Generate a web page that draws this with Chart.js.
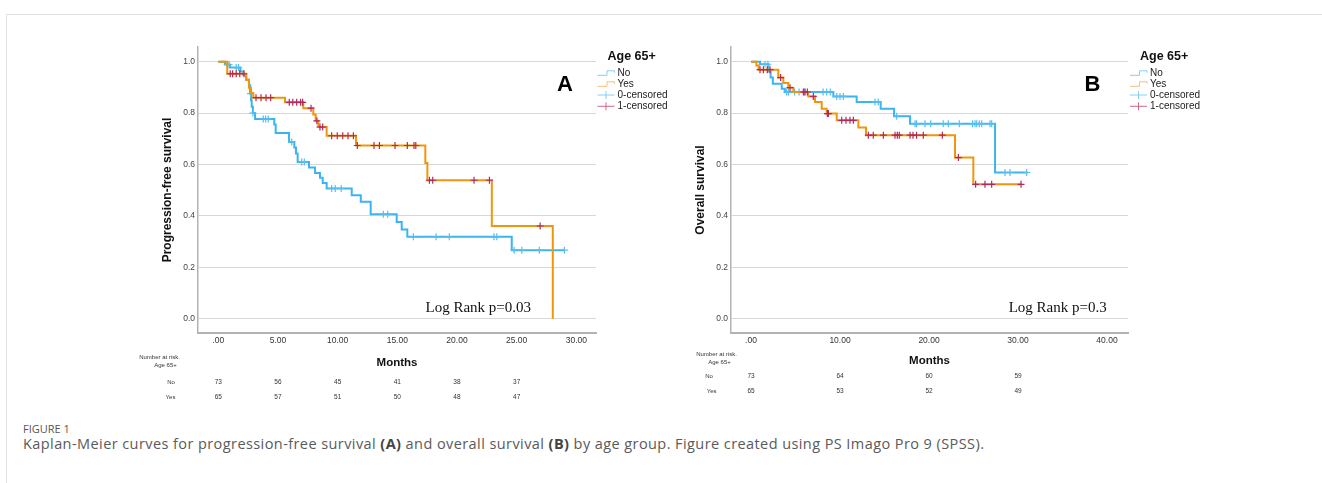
<!DOCTYPE html>
<html>
<head>
<meta charset="utf-8">
<script src="https://cdn.jsdelivr.net/npm/chart.js@4.4.1/dist/chart.umd.min.js"></script>
<style>
html, body { margin: 0; padding: 0; background: #fff; }
body { width: 1322px; height: 483px; position: relative; overflow: hidden; font-family: "Liberation Sans", Arial, sans-serif; }
#frame { position: absolute; left: 6px; top: 14px; width: 1400px; height: 500px; border-top: 1px solid #e2e2e2; border-left: 1px solid #e2e2e2; }
#cA { position: absolute; left: 120px; top: 30px; }
#cB { position: absolute; left: 680px; top: 30px; }
#figlabel { position: absolute; left: 23px; top: 421px; font: 11px "Open Sans", sans-serif; color: #555; }
#caption { position: absolute; left: 23px; top: 434px; font: 14.5px "Open Sans", sans-serif; letter-spacing: 0.42px; color: #5a5a5a; white-space: nowrap; }
#caption b { color: #444; }
</style>
</head>
<body>
<div id="frame"></div>
<canvas id="cA" width="560" height="380"></canvas>
<canvas id="cB" width="540" height="380"></canvas>
<div id="figlabel">FIGURE 1</div>
<div id="caption">Kaplan-Meier curves for progression-free survival <b>(A)</b> and overall survival <b>(B)</b> by age group. Figure created using PS Imago Pro 9 (SPSS).</div>
<script>
// Panel A: progression-free survival (months, survival after each drop)
const pfsNoTimes = [0, 0.56, 0.98, 1.85, 2.1, 2.35, 2.57, 2.66, 2.74, 2.8, 2.9, 3.08, 4.69, 4.81, 5.93, 6.37, 6.51, 6.65, 7.6, 8.11, 8.52, 8.75, 9.08, 11.18, 11.94, 12.77, 14.95, 15.37, 15.84, 24.59, 29.0];
const pfsNoSurv = [1, 0.989, 0.977, 0.962, 0.948, 0.93, 0.908, 0.876, 0.85, 0.825, 0.80, 0.777, 0.756, 0.723, 0.688, 0.666, 0.643, 0.610, 0.588, 0.567, 0.549, 0.528, 0.507, 0.481, 0.455, 0.407, 0.377, 0.347, 0.319, 0.267, 0.267];
const pfsNoCensored = [0.75, 0.9, 1.5, 1.7, 2.7, 2.9, 3.77, 3.97, 4.19, 6.15, 6.99, 7.21, 9.5, 9.8, 10.3, 13.83, 14.2, 16.35, 18.25, 19.36, 23.1, 23.34, 24.79, 25.43, 26.9, 29.0];

const pfsYesTimes = [0, 0.75, 2.32, 2.57, 2.74, 2.93, 5.59, 7.12, 7.96, 8.16, 8.38, 9.08, 11.54, 17.35, 17.52, 22.92, 28.03];
const pfsYesSurv = [1, 0.953, 0.930, 0.899, 0.878, 0.860, 0.842, 0.819, 0.795, 0.770, 0.746, 0.712, 0.674, 0.606, 0.539, 0.361, 0];
const pfsYesCensored = [1.0, 1.2, 1.5, 1.8, 2.15, 3.16, 3.58, 4.0, 4.39, 5.95, 6.24, 6.57, 6.9, 7.07, 7.77, 8.26, 8.52, 8.75, 9.5, 9.97, 10.43, 10.87, 11.32, 11.65, 13.05, 13.5, 14.81, 15.84, 16.4, 16.55, 17.69, 17.97, 21.43, 22.72, 26.97];

// Panel B: overall survival
const osNoTimes = [0, 1.01, 1.96, 2.2, 2.45, 3.45, 3.8, 9.25, 11.87, 14.57, 16.07, 17.87, 27.42, 31.05];
const osNoSurv = [1, 0.99, 0.962, 0.938, 0.914, 0.895, 0.882, 0.865, 0.843, 0.817, 0.788, 0.759, 0.569, 0.569];
const osNoCensored = [1.57, 1.9, 4.0, 4.2, 4.9, 5.4, 6.0, 8.1, 8.5, 8.9, 9.63, 10.0, 10.37, 13.93, 14.3, 16.37, 18.43, 18.6, 19.55, 20.19, 21.6, 22.17, 23.4, 24.9, 25.17, 25.36, 25.65, 25.92, 26.85, 27.04, 28.54, 29.1, 30.98];

const osYesTimes = [0, 0.6, 0.85, 3.07, 3.63, 4.19, 4.76, 6.44, 7.19, 7.94, 8.5, 9.63, 12.06, 12.92, 22.92, 24.98, 30.4];
const osYesSurv = [1, 0.985, 0.969, 0.938, 0.917, 0.899, 0.882, 0.865, 0.843, 0.817, 0.798, 0.772, 0.744, 0.714, 0.627, 0.523, 0.523];
const osYesCensored = [1.01, 1.39, 1.83, 2.13, 3.33, 4.38, 5.88, 6.07, 6.33, 7.0, 8.58, 8.69, 10.19, 10.67, 11.12, 11.5, 13.18, 13.74, 14.87, 16.18, 16.44, 16.66, 17.87, 18.2, 18.6, 19.36, 21.5, 23.3, 25.24, 26.29, 27.04, 30.34];

// Number at risk
const riskTimesA = [0, 5, 10, 15, 20, 25];
const riskNoA = [73, 56, 45, 41, 38, 37];
const riskYesA = [65, 57, 51, 50, 48, 47];
const riskTimesB = [0, 10, 20, 30];
const riskNoB = [73, 64, 60, 59];
const riskYesB = [65, 53, 52, 49];

// Ticks
const xTicksA = [0, 5, 10, 15, 20, 25, 30];
const xTicksB = [0, 10, 20, 30, 40];
const yTicks = [0, 0.2, 0.4, 0.6, 0.8, 1.0];

const legendTitle = 'Age 65+';
const legendLabels = ['No', 'Yes', '0-censored', '1-censored'];

const BLUE = '#3cb4ef';
const ORANGE = '#f1950e';
const BLUE_MARK = '#56bff0';
const RED_MARK = '#b3295a';

Chart.defaults.font.family = '"Liberation Sans", Arial, sans-serif';

// valeur de survie de la courbe au temps t (fonction en escalier)
function survAt(times, surv, t) {
    let s = surv[0];
    for (let i = 0; i < times.length; i++) {
        if (times[i] <= t) s = surv[i];
    }
    return s;
}

function toPoints(times, surv) {
    return times.map((t, i) => ({ x: t, y: surv[i] }));
}

function censorPoints(cens, times, surv) {
    return cens.map(t => ({ x: t, y: survAt(times, surv, t) }));
}

// legende, lettre, log rank et tableau des effectifs
const kmDecor = {
    id: 'kmDecor',
    afterDraw(chart, args, opts) {
        const { ctx, chartArea: area } = chart;
        const x = chart.scales.x;
        ctx.save();

        // legend
        const lx = area.right + opts.legendDx;
        ctx.textBaseline = 'middle';
        ctx.textAlign = 'left';
        ctx.fillStyle = '#111';
        ctx.font = 'bold 12.5px "Liberation Sans"';
        ctx.fillText(legendTitle, lx + 10, 26.7);
        const rows = [43.3, 54.3, 65, 76.3];
        const iconColors = ['#86cff3', '#f6c07a', '#86cff3', '#c76a8c'];
        ctx.lineWidth = 1;
        rows.forEach((yc, i) => {
            ctx.strokeStyle = iconColors[i];
            ctx.beginPath();
            if (i < 2) {
                ctx.moveTo(lx, yc + 2);
                ctx.lineTo(lx + 9.5, yc + 2);
                ctx.lineTo(lx + 9.5, yc - 2.5);
                ctx.lineTo(lx + 17, yc - 2.5);
                ctx.lineTo(lx + 17, yc - 0.5);
            } else {
                ctx.moveTo(lx, yc);
                ctx.lineTo(lx + 17, yc);
                ctx.moveTo(lx + 8.5, yc - 4);
                ctx.lineTo(lx + 8.5, yc + 4);
            }
            ctx.stroke();
            ctx.fillStyle = '#222';
            ctx.font = '10px "Liberation Sans"';
            ctx.fillText(legendLabels[i], lx + 20, yc);
        });

        // panel letter
        ctx.textAlign = 'center';
        ctx.fillStyle = '#000';
        ctx.font = 'bold 22px "Liberation Sans"';
        ctx.fillText(opts.letter, area.right + opts.letterDx, area.top + 38);

        // log rank
        ctx.textAlign = 'right';
        ctx.fillStyle = '#111';
        ctx.font = '15px "Liberation Serif"';
        ctx.fillText(opts.logRank, area.right + opts.logRankDx, area.bottom - 25);

        // number at risk
        ctx.fillStyle = '#333';
        ctx.font = '6px "Liberation Sans"';
        ctx.textAlign = 'center';
        const r = opts.risk;
        ctx.fillText('Number at risk.', r.headX, r.headY);
        ctx.fillText(legendTitle, r.subX, r.subY);
        ctx.fillText('No', r.noX, r.noY);
        ctx.fillText('Yes', r.yesX, r.yesY);
        ctx.font = '6.5px "Liberation Sans"';
        r.times.forEach((t, i) => {
            const px = x.getPixelForValue(t);
            ctx.fillText(String(r.no[i]), px, r.noY);
            ctx.fillText(String(r.yes[i]), px, r.yesY);
        });
        ctx.restore();
    }
};

function makeKM(id, p) {
    const ctx = document.getElementById(id).getContext('2d');
    return new Chart(ctx, {
        type: 'line',
        data: {
            datasets: [
                { data: censorPoints(p.yesCens, p.yesT, p.yesS), showLine: false, pointStyle: 'cross', pointRadius: 3.5, borderColor: RED_MARK, borderWidth: 1.2, order: 1 },
                { data: toPoints(p.yesT, p.yesS), stepped: true, borderColor: ORANGE, borderWidth: 2, pointRadius: 0, fill: false, order: 2 },
                { data: censorPoints(p.noCens, p.noT, p.noS), showLine: false, pointStyle: 'cross', pointRadius: 3.5, borderColor: BLUE_MARK, borderWidth: 1.2, order: 3 },
                { data: toPoints(p.noT, p.noS), stepped: true, borderColor: BLUE, borderWidth: 2, pointRadius: 0, fill: false, order: 4 }
            ]
        },
        options: {
            responsive: false,
            animation: false,
            devicePixelRatio: 1,
            events: [],
            layout: { padding: p.padding },
            plugins: {
                legend: { display: false },
                tooltip: { enabled: false },
                kmDecor: p.decor
            },
            scales: {
                x: {
                    type: 'linear',
                    min: p.xMin,
                    max: p.xMax,
                    afterBuildTicks: a => { a.ticks = p.xTicks.map(v => ({ value: v })); },
                    afterFit: s => { s.height = 40; },
                    ticks: {
                        autoSkip: false, maxRotation: 0, padding: 3,
                        font: { size: 8.5 }, color: '#333',
                        callback: v => v === 0 ? '.00' : v.toFixed(2)
                    },
                    grid: { drawOnChartArea: false, drawTicks: false },
                    border: { color: '#b3b3b3', width: 2 },
                    title: { display: true, text: 'Months', color: '#111', font: { size: 11.5, weight: 'bold' }, padding: { top: 0, bottom: p.monthsPad } }
                },
                y: {
                    min: -0.055,
                    max: 1.057,
                    afterBuildTicks: a => { a.ticks = yTicks.map(v => ({ value: v })); },
                    afterFit: s => { s.width = 42; },
                    ticks: { padding: 3, font: { size: 8.5 }, color: '#444', callback: v => v.toFixed(1) },
                    grid: { color: '#d8d8d8', lineWidth: 1, drawTicks: false },
                    border: { color: '#b3b3b3', width: 1.5 },
                    title: { display: true, text: p.yTitle, color: '#111', font: { size: 12, weight: 'bold' }, padding: { top: 4, bottom: 0 } }
                }
            }
        },
        plugins: [kmDecor]
    });
}

makeKM('cA', {
    noT: pfsNoTimes, noS: pfsNoSurv, noCens: pfsNoCensored,
    yesT: pfsYesTimes, yesS: pfsYesSurv, yesCens: pfsYesCensored,
    xMin: -1.7, xMax: 31.65, xTicks: xTicksA,
    yTitle: 'Progression-free survival',
    padding: { left: 36, right: 84, top: 17, bottom: 37 },
    monthsPad: 3,
    decor: {
        legendDx: 1.5, letter: 'A', letterDx: -31, logRank: 'Log Rank p=0.03', logRankDx: -65,
        risk: { headX: 39.5, headY: 327.7, subX: 45.5, subY: 335, noX: 51, noY: 352.3, yesX: 50.5, yesY: 367.7,
                times: riskTimesA, no: riskNoA, yes: riskYesA }
    }
});

makeKM('cB', {
    noT: osNoTimes, noS: osNoSurv, noCens: osNoCensored,
    yesT: osYesTimes, yesS: osYesSurv, yesCens: osYesCensored,
    xMin: -2.25, xMax: 42.36, xTicks: xTicksB,
    yTitle: 'Overall survival',
    padding: { left: 9, right: 92, top: 17, bottom: 37 },
    monthsPad: 5,
    decor: {
        legendDx: 2, letter: 'B', letterDx: -35.5, logRank: 'Log Rank p=0.3', logRankDx: -21.3,
        risk: { headX: 36.5, headY: 324.3, subX: 39.5, subY: 332.7, noX: 29, noY: 346, yesX: 31.7, yesY: 361.7,
                times: riskTimesB, no: riskNoB, yes: riskYesB }
    }
});
</script>
</body>
</html>
